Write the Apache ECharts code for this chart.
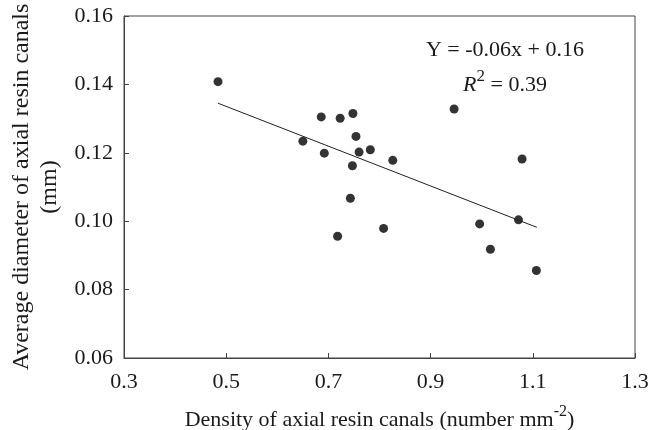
<!DOCTYPE html>
<html>
<head>
<meta charset="utf-8">
<script src="https://cdn.jsdelivr.net/npm/echarts@6/dist/echarts.min.js"></script>
<style>html,body{margin:0;padding:0;background:#fff;}#c{width:651px;height:430px;}</style>
</head>
<body>
<div id="c"></div>
<script>
// Data
var densityX = [0.484, 0.650, 0.686, 0.692, 0.723, 0.748, 0.754, 0.760, 0.747, 0.782, 0.826, 0.743, 0.718, 0.808, 0.946, 1.079, 0.996, 1.072, 1.017, 1.107];
var diameterY = [0.1408, 0.1234, 0.1305, 0.1199, 0.1301, 0.1315, 0.1248, 0.1202, 0.1162, 0.1209, 0.1178, 0.1067, 0.0956, 0.0979, 0.1328, 0.1182, 0.0992, 0.1004, 0.0918, 0.0856];
var trendX = [0.484, 1.108];
var trendY = [0.1345, 0.0982];
var xTicks = [0.3, 0.5, 0.7, 0.9, 1.1, 1.3];
var yTicks = [0.06, 0.08, 0.10, 0.12, 0.14, 0.16];
var equationText = 'Y = -0.06x + 0.16';
var r2Value = '0.39';
var xTitle = 'Density of axial resin canals (number mm';
var xTitleSup = '-2';
var yTitle = 'Average diameter of axial resin canals\n(mm)';

var FONT = '"Liberation Serif", "Times New Roman", serif';
var TXT = '#1a1a1a';
var LINE = '#444';

var chart = echarts.init(document.getElementById('c'));
chart.setOption({
  animation: false,
  backgroundColor: '#fff',
  grid: { left: 124, right: 16, top: 16, bottom: 72, containLabel: false, outerBoundsMode: 'none',
    show: true, borderColor: LINE, borderWidth: 1 },
  xAxis: {
    type: 'value', min: xTicks[0], max: xTicks[xTicks.length - 1], interval: 0.2,
    axisLine: { show: true, lineStyle: { color: LINE, width: 1 } },
    axisTick: { show: true, inside: true, length: 5, lineStyle: { color: LINE } },
    splitLine: { show: false },
    axisLabel: { color: TXT, fontFamily: FONT, fontSize: 22, margin: 13,
      formatter: function (v) { return v.toFixed(1); } },
    name: '{m|' + xTitle + '}{s|' + xTitleSup + '}{m|)}',
    nameLocation: 'middle', nameGap: 49,
    nameTextStyle: {
      rich: {
        m: { fontFamily: FONT, fontSize: 22, color: TXT, lineHeight: 26 },
        s: { fontFamily: FONT, fontSize: 16, color: TXT, lineHeight: 26, padding: [0, 0, 16, 0] }
      }
    }
  },
  yAxis: {
    type: 'value', min: yTicks[0], max: yTicks[yTicks.length - 1], interval: 0.02,
    axisLine: { show: true, lineStyle: { color: LINE, width: 1 } },
    axisTick: { show: true, inside: true, length: 5, lineStyle: { color: LINE } },
    splitLine: { show: false },
    axisLabel: { color: TXT, fontFamily: FONT, fontSize: 22, margin: 11,
      formatter: function (v) { return v.toFixed(2); } },
    name: yTitle, nameLocation: 'middle', nameGap: 58, nameRotate: 90,
    nameTextStyle: { fontFamily: FONT, fontSize: 24, color: TXT, lineHeight: 28 }
  },
  graphic: [{
    type: 'text', x: 505, y: 50, z: 10,
    style: {
      text: equationText, align: 'center', verticalAlign: 'middle',
      fontFamily: FONT, fontSize: 22, fill: TXT
    }
  }, {
    type: 'text', x: 505, y: 85, z: 10,
    style: {
      text: '{r|R}{s|2}{a| = ' + r2Value + '}',
      align: 'center', verticalAlign: 'middle',
      rich: {
        a: { fontFamily: FONT, fontSize: 22, fill: TXT, lineHeight: 30 },
        r: { fontFamily: FONT, fontSize: 22, fontStyle: 'italic', fill: TXT, lineHeight: 30 },
        s: { fontFamily: FONT, fontSize: 17, fill: TXT, lineHeight: 30, padding: [0, 0, 16, 0] }
      }
    }
  }],
  series: [{
    type: 'scatter', symbol: 'circle', symbolSize: 9,
    itemStyle: { color: '#000' },
    data: densityX.map(function (x, i) { return [x, diameterY[i]]; })
  }, {
    type: 'line', symbol: 'none', silent: true,
    lineStyle: { color: '#222', width: 1 },
    data: trendX.map(function (x, i) { return [x, trendY[i]]; })
  }]
});
</script>
</body>
</html>
